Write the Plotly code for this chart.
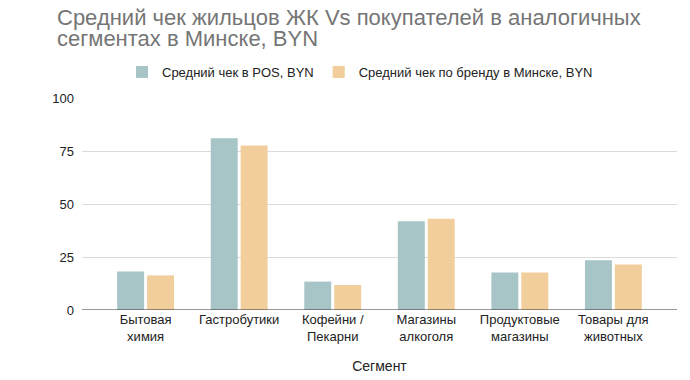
import plotly.graph_objects as go

categories = ["Бытовая<br>химия", "Гастробутики", "Кофейни /<br>Пекарни",
              "Магазины<br>алкоголя", "Продуктовые<br>магазины", "Товары для<br>животных"]
pos_values = [18.2, 81.0, 13.4, 41.9, 17.7, 23.5]
brand_values = [16.3, 77.6, 11.8, 43.0, 17.7, 21.5]
series_names = ["Средний чек в POS, BYN", "Средний чек по бренду в Минске, BYN"]
title_lines = ["Средний чек жильцов ЖК Vs покупателей в аналогичных",
               "сегментах в Минске, BYN"]
y_ticks = [0, 25, 50, 75, 100]

FONT = "Liberation Sans, Arial, sans-serif"
OFF = 8  # page body margin
W, H = 690 - OFF, 380 - OFF
# target screen pixels of plot area: left 82, right 677, top 98, bottom 310
ML, MT = 82 - OFF, 98 - OFF
MR = W - (677 - OFF)
MB = H - (310 - OFF)
PH = H - MT - MB
PW = W - ML - MR


def py(screen_y):
    return (H - MB - (screen_y - OFF)) / PH


def px(screen_x):
    return ((screen_x - OFF) - ML) / PW


fig = go.Figure()
fig.add_trace(go.Bar(x=categories, y=pos_values, name=series_names[0],
                     marker=dict(color="#A7C4C6", line=dict(width=0))))
fig.add_trace(go.Bar(x=categories, y=brand_values, name=series_names[1],
                     marker=dict(color="#F1CE9C", line=dict(width=0))))

fig.update_layout(
    width=W, height=H,
    margin=dict(l=ML, r=MR, t=MT, b=MB, autoexpand=False),
    paper_bgcolor="white", plot_bgcolor="white",
    font=dict(family=FONT, size=13, color="#222222"),
    barmode="group", bargap=0.36, bargroupgap=0.1,
    showlegend=True,
    legend=dict(orientation="h", x=px(360), xanchor="center", y=py(72), yanchor="middle",
                font=dict(size=13, color="#222222"), traceorder="normal"),
    xaxis=dict(range=[-0.68, 5.68], showgrid=False, showline=False, ticks="",
               automargin=False,
               tickfont=dict(size=13, color="#222222"),
               title=dict(text="Сегмент", font=dict(size=14, color="#222222"), standoff=18)),
    yaxis=dict(range=[0, 100], tickvals=y_ticks, showgrid=True, gridcolor="#DADADA",
               gridwidth=1, zeroline=False, showline=False, ticks="",
               automargin=False,
               tickfont=dict(size=13, color="#222222"), ticklabelstandoff=7),
)

for i, line in enumerate(title_lines):
    fig.add_annotation(text=line, xref="paper", yref="paper",
                       x=px(55), xanchor="left", y=py(17 + 22 * i), yanchor="middle",
                       showarrow=False, align="left",
                       font=dict(family=FONT, size=22, color="#757575"))

fig.add_shape(type="line", xref="paper", yref="y", x0=0, x1=1, y0=0, y1=0,
              line=dict(color="#333333", width=1))

fig.write_html("out.html")
